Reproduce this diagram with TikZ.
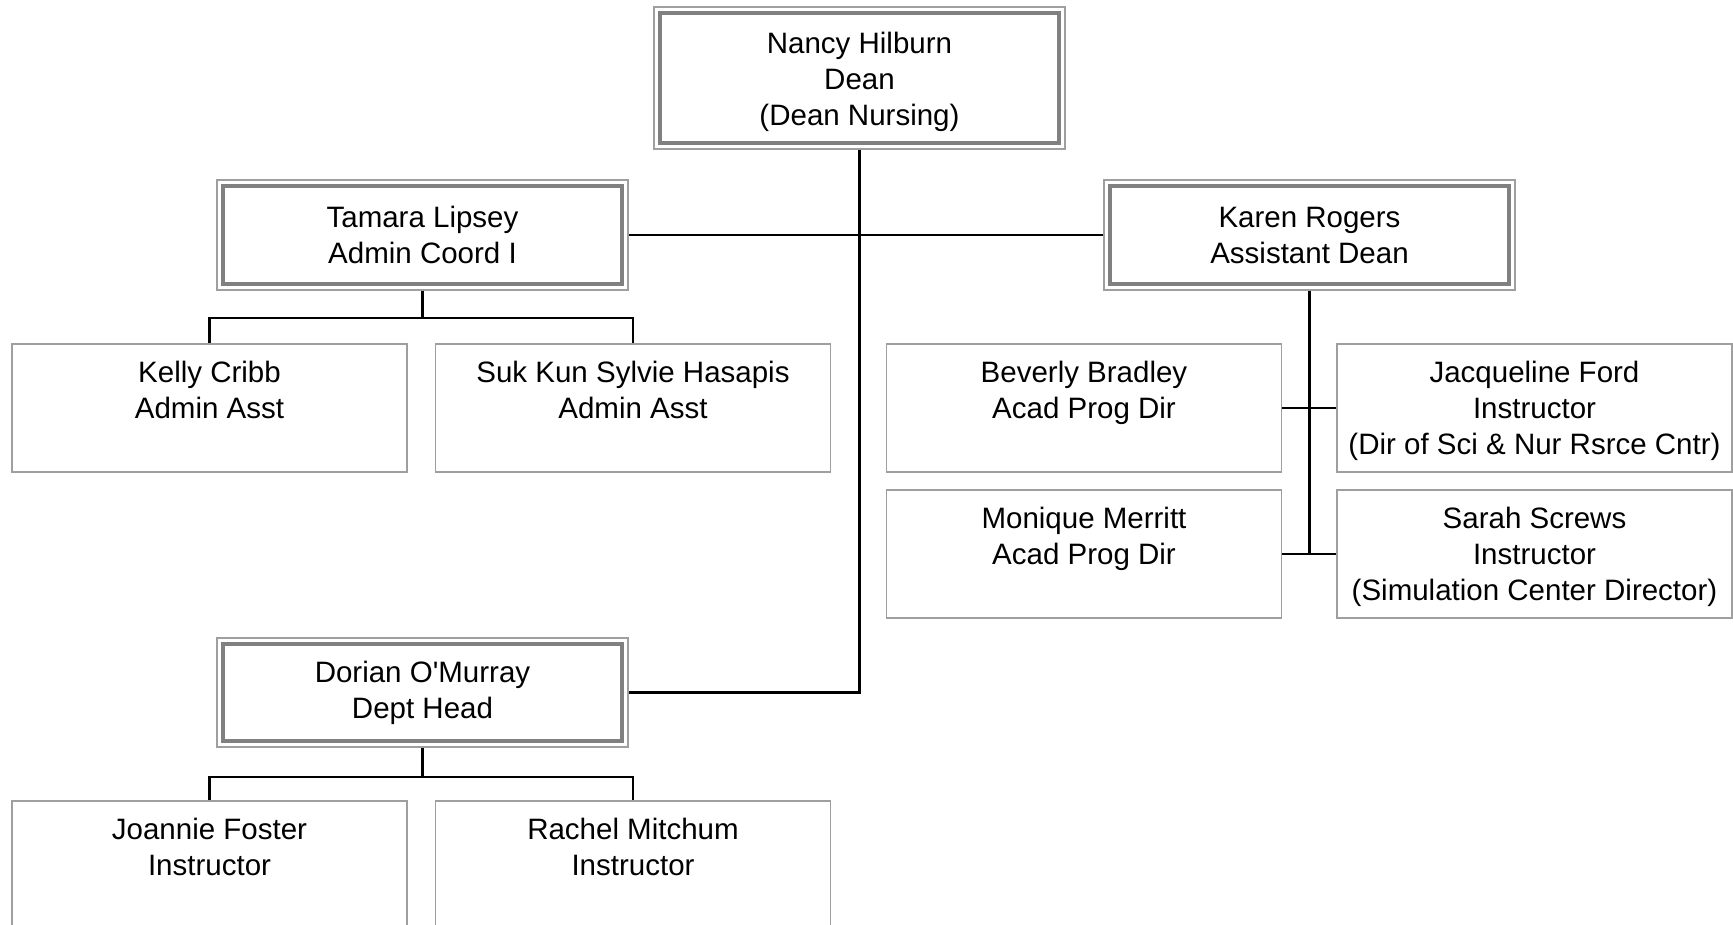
\documentclass[tikz,border=0pt]{standalone}
\usepackage{fontspec}
\newfontfamily\arialf{Liberation Sans}
\newcommand{\topstrut}{\rule{0pt}{32pt}}
\begin{document}
\begin{tikzpicture}[x=1pt,y=-1pt,
  every node/.style={font=\arialf\fontsize{29.5}{36}\selectfont, align=center, inner sep=0pt},
  dbl/.style={draw=gray!75, line width=1.3pt, minimum width=411pt},
  plainbox/.style={draw=gray!75, line width=1.3pt, minimum width=395pt, minimum height=128pt},
  innerline/.style={draw=gray, line width=4pt},
  conn/.style={line width=2.2pt, black}
]
\useasboundingbox (0,0) rectangle (1733,925);
\fill[white] (0,0) rectangle (1733,925);

% managers (double frames)
\node[dbl, minimum height=142pt] (dean)   at (859.5,78)    {\rule{0pt}{29.5pt}Nancy Hilburn\\Dean\\(Dean Nursing)};
\node[dbl, minimum height=110pt] (tamara) at (422.5,235)   {Tamara Lipsey\\Admin Coord I};
\node[dbl, minimum height=110pt] (karen)  at (1309.5,235)  {Karen Rogers\\Assistant Dean};
\node[dbl, minimum height=109pt] (dorian) at (422.5,692.5) {Dorian O'Murray\\Dept Head};
\foreach \n in {dean,tamara,karen,dorian}
  \draw[innerline] ([shift={(6.5pt,6.5pt)}]\n.south west) rectangle ([shift={(-6.5pt,-6.5pt)}]\n.north east);

% staff boxes
\node[plainbox] (kelly)   at (209.5,408)  {\topstrut Kelly Cribb\\Admin Asst\\\strut};
\node[plainbox] (suk)     at (633,408)    {\topstrut Suk Kun Sylvie Hasapis\\Admin Asst\\\strut};
\node[plainbox] (beverly) at (1084,408)   {\topstrut Beverly Bradley\\Acad Prog Dir\\\strut};
\node[plainbox] (jacq)    at (1534.5,408) {\topstrut Jacqueline Ford\\Instructor\\(Dir of Sci \& Nur Rsrce Cntr)\strut};
\node[plainbox] (monique) at (1084,554)   {\topstrut Monique Merritt\\Acad Prog Dir\\\strut};
\node[plainbox] (sarah)   at (1534.5,554) {\topstrut Sarah Screws\\Instructor\\(Simulation Center Director)\strut};
\node[plainbox] (joannie) at (209.5,865)  {\topstrut Joannie Foster\\Instructor\\\strut};
\node[plainbox] (rachel)  at (633,865)    {\topstrut Rachel Mitchum\\Instructor\\\strut};

% connectors
\draw[conn] (dean.south) |- (dorian.east);
\draw[conn] (tamara.east) -- (karen.west);

\coordinate (tbus) at (422.5,318);
\draw[conn] (tamara.south) -- (tbus);
\draw[conn] (kelly.north) |- (tbus) -| (suk.north);

\coordinate (kend) at (karen.south |- monique.east);
\draw[conn] (karen.south) -- (kend);
\draw[conn] (beverly.east) -- (jacq.west);
\draw[conn] (monique.east) -- (sarah.west);

\coordinate (dbus) at (422.5,777);
\draw[conn] (dorian.south) -- (dbus);
\draw[conn] (joannie.north) |- (dbus) -| (rachel.north);
\end{tikzpicture}
\end{document}
